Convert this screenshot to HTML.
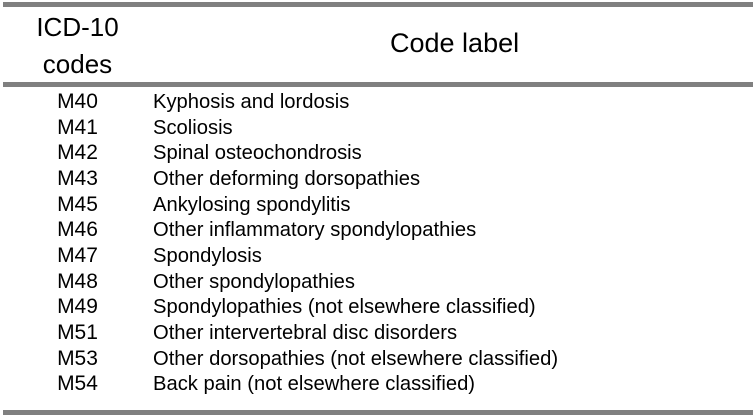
<!DOCTYPE html>
<html><head><style>
body{margin:0;width:756px;height:419px;background:#fff;position:relative;overflow:hidden;font-family:"Liberation Sans",sans-serif;color:#000}
.l{position:absolute;left:3px;width:750px;height:5px;background:#808080}
.t{position:absolute;white-space:nowrap;line-height:1}
.c{position:absolute;left:20px;width:115px;text-align:center;font-size:21px;line-height:1;margin-top:-1px}
.d{position:absolute;left:153px;font-size:20.2px;line-height:1;white-space:nowrap}
</style></head><body>
<div class="l" style="top:2px"></div>
<div class="l" style="top:82px"></div>
<div class="l" style="top:410px"></div>
<div class="t" style="left:20px;width:115px;text-align:center;top:9px;font-size:26px;line-height:37px">ICD-10<br>codes</div>
<div class="t" style="left:390px;top:30px;font-size:27px">Code label</div>
<div class="c" style="top:92px">M40</div><div class="d" style="top:92px">Kyphosis and lordosis</div>
<div class="c" style="top:118px">M41</div><div class="d" style="top:118px">Scoliosis</div>
<div class="c" style="top:143px">M42</div><div class="d" style="top:143px">Spinal osteochondrosis</div>
<div class="c" style="top:169px">M43</div><div class="d" style="top:169px">Other deforming dorsopathies</div>
<div class="c" style="top:195px">M45</div><div class="d" style="top:195px">Ankylosing spondylitis</div>
<div class="c" style="top:220px">M46</div><div class="d" style="top:220px">Other inflammatory spondylopathies</div>
<div class="c" style="top:246px">M47</div><div class="d" style="top:246px">Spondylosis</div>
<div class="c" style="top:272px">M48</div><div class="d" style="top:272px">Other spondylopathies</div>
<div class="c" style="top:297px">M49</div><div class="d" style="top:297px">Spondylopathies (not elsewhere classified)</div>
<div class="c" style="top:323px">M51</div><div class="d" style="top:323px">Other intervertebral disc disorders</div>
<div class="c" style="top:349px">M53</div><div class="d" style="top:349px">Other dorsopathies (not elsewhere classified)</div>
<div class="c" style="top:374px">M54</div><div class="d" style="top:374px">Back pain (not elsewhere classified)</div>
</body></html>
